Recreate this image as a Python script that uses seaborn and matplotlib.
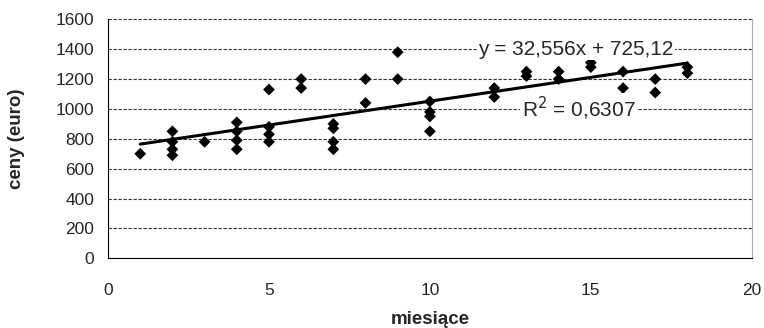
import pandas as pd
import seaborn as sns
import matplotlib.pyplot as plt

sns.set_style("white")
plt.rcParams['font.family'] = ['Liberation Sans', 'DejaVu Sans']

# months and prices
months = [1,
          2, 2, 2, 2,
          3,
          4, 4, 4, 4,
          5, 5, 5, 5,
          6, 6,
          7, 7, 7, 7,
          8, 8,
          9, 9,
          10, 10, 10, 10,
          12, 12,
          13, 13,
          14, 14,
          15, 15,
          16, 16,
          17, 17,
          18, 18]
prices = [700,
          850, 780, 730, 690,
          780,
          910, 850, 790, 730,
          1130, 880, 830, 780,
          1200, 1140,
          900, 870, 780, 730,
          1200, 1040,
          1380, 1200,
          1050, 980, 950, 850,
          1140, 1080,
          1250, 1220,
          1250, 1200,
          1310, 1280,
          1250, 1140,
          1200, 1110,
          1280, 1240]

eq_text = "y = 32,556x + 725,12"
r2_text = "R$^2$ = 0,6307"

data = pd.DataFrame({"miesiace": months, "ceny": prices})

fig = plt.figure(figsize=(7.64, 3.28), dpi=100)
ax = fig.add_axes([0.1414, 0.2125, 0.8426, 0.7285])

sns.regplot(x="miesiace", y="ceny", data=data, ax=ax, ci=None, marker="D",
            scatter_kws={"s": 36, "color": "black", "edgecolor": "none", "alpha": 1},
            line_kws={"color": "black", "linewidth": 2.2})

ax.set_xlim(0, 20)
ax.set_ylim(0, 1600)
ax.set_xticks(range(0, 21, 5))
ax.set_yticks(range(0, 1601, 200))
ax.yaxis.grid(True, color="#333333", linestyle=(0, (3, 1.5)), linewidth=0.8)
ax.set_axisbelow(True)

ax.spines["top"].set_visible(False)
ax.spines["right"].set_color("#aaaaaa")
ax.spines["right"].set_linestyle((0, (1, 1)))
ax.spines["left"].set_color("black")
ax.spines["bottom"].set_color("black")
ax.spines["left"].set_linewidth(0.8)
ax.spines["bottom"].set_linewidth(0.8)

ax.tick_params(axis="y", direction="out", length=4, width=0.8, labelsize=12.5, pad=6)
ax.tick_params(axis="x", direction="inout", length=6, width=0.8, labelsize=12.5, pad=15)

ax.set_xlabel("miesiące", fontsize=13.5, fontweight="bold", labelpad=9)
ax.set_ylabel("ceny (euro)", fontsize=13.5, fontweight="bold", labelpad=22)

ax.text(11.5, 1400, eq_text, fontsize=15, va="center", ha="left",
        bbox=dict(facecolor="white", edgecolor="none", pad=1))
ax.text(12.85, 1005, r2_text, fontsize=15, va="center", ha="left",
        bbox=dict(facecolor="white", edgecolor="none", pad=1))

fig.savefig("out.png", dpi=100)
